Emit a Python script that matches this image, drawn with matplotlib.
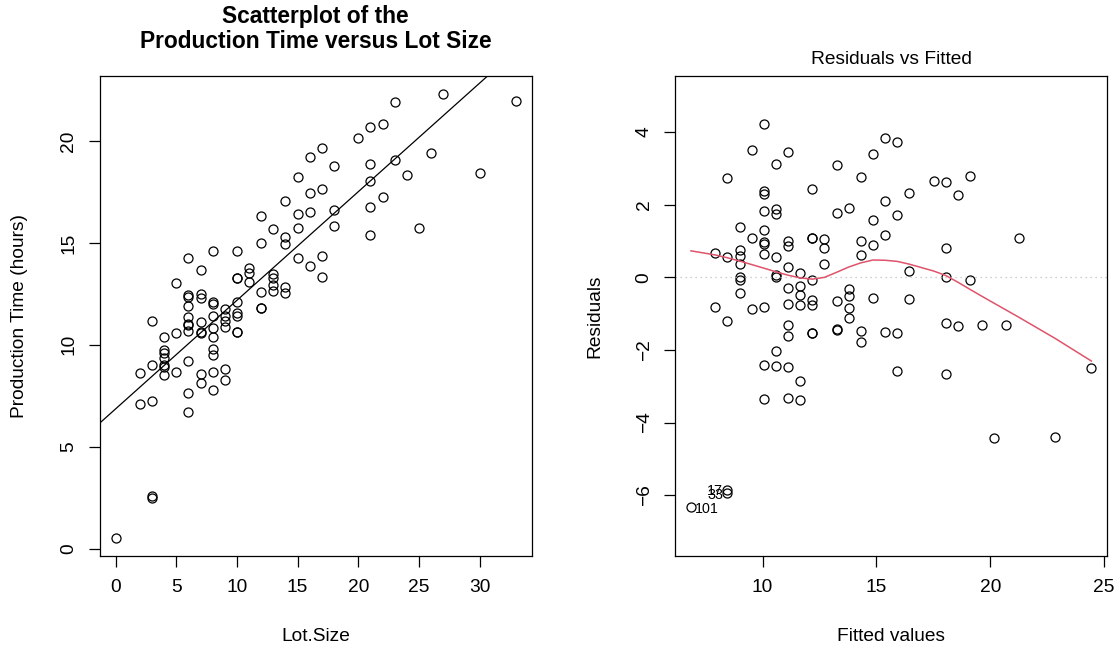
import numpy as np
import matplotlib.pyplot as plt

plt.rcParams['font.family'] = ['Liberation Sans', 'DejaVu Sans']

# lot size / production time (hours)
lot_size = ([0] + [2] * 2 + [3] * 5 + [4] * 7 + [5] * 3 + [6] * 11 + [7] * 8
            + [8] * 10 + [9] * 6 + [10] * 8 + [11] * 3 + [12] * 5 + [13] * 5
            + [14] * 5 + [15] * 4 + [16] * 4 + [17] * 4 + [18] * 3 + [20]
            + [21] * 5 + [22] * 2 + [23] * 2 + [24, 25, 26, 27, 30, 33])
hours = [0.52,
         8.60, 7.09,
         11.18, 9.00, 7.24, 2.60, 2.50,
         10.36, 9.74, 9.58, 9.35, 9.00, 8.92, 8.54,
         13.02, 10.60, 8.65,
         14.26, 12.44, 12.34, 11.88, 11.35, 11.01, 10.96, 10.70, 9.22, 7.63, 6.70,
         13.69, 12.47, 12.32, 11.13, 10.65, 10.58, 8.56, 8.13,
         14.58, 12.12, 11.98, 11.41, 10.82, 10.39, 9.80, 9.49, 8.66, 7.78,
         11.76, 11.42, 11.17, 10.88, 8.80, 8.28,
         14.62, 13.26, 13.26, 12.12, 11.55, 11.41, 10.64, 10.64,
         13.78, 13.52, 13.08,
         16.33, 15.01, 12.60, 11.83, 11.80,
         15.68, 13.47, 13.26, 12.93, 12.65,
         17.08, 15.31, 14.94, 12.83, 12.52,
         18.23, 16.43, 15.75, 14.27,
         19.22, 17.47, 16.54, 13.87,
         19.64, 17.63, 14.37, 13.34,
         18.77, 16.62, 15.85,
         20.17,
         20.67, 18.85, 18.04, 16.78, 15.39,
         20.84, 17.23,
         21.90, 19.05,
         18.33, 15.75, 19.41, 22.32, 18.44, 21.95]

# case numbers of the three largest residuals (largest first)
id_labels = ["101", "33", "17"]

x = np.array(lot_size, dtype=float)
y = np.array(hours)

slope, intercept = np.polyfit(x, y, 1)
fitted = intercept + slope * x
resid = y - fitted


def lowess(x, y, f=2 / 3, iters=3):
    # port of R's clowess (no delta shortcut)
    order = np.argsort(x, kind="stable")
    xs, ys_in = x[order], y[order]
    n = len(xs)
    ns = max(min(int(f * n + 1e-7), n), 2)
    rw = np.ones(n)
    ys = np.zeros(n)
    for it in range(iters + 1):
        for i in range(n):
            d = np.abs(xs - xs[i])
            h = np.sort(d)[ns - 1]
            w = np.zeros(n)
            inside = d <= 0.999 * h
            w[inside] = (1 - (d[inside] / h) ** 3) ** 3 if h > 0 else 1
            w[d <= 0.001 * h] = 1
            w *= rw
            if w.sum() <= 0:
                ys[i] = ys_in[i]
                continue
            w = w / w.sum()
            a = np.sum(w * xs)
            c = np.sum(w * (xs - a) ** 2)
            if h > 0 and np.sqrt(c) > 0.001 * (xs[-1] - xs[0]):
                b = np.sum(w * (xs - a) * ys_in) / c
                ys[i] = np.sum(w * ys_in) + b * (xs[i] - a)
            else:
                ys[i] = np.sum(w * ys_in)
        if it == iters:
            break
        res = ys_in - ys
        cmad = 6 * np.median(np.abs(res))
        if cmad < 1e-7 * np.mean(np.abs(ys_in)):
            break
        r = np.abs(res)
        rw = np.where(r <= 0.001 * cmad, 1.0,
                      np.where(r > 0.999 * cmad, 0.0, (1 - (r / cmad) ** 2) ** 2))
    return xs, ys


def r_lim(lo, hi):
    pad = 0.04 * (hi - lo)
    return lo - pad, hi + pad


FS = 13.8

fig = plt.figure(figsize=(11.16, 6.48), dpi=100)
ax1 = fig.add_axes([0.0892, 0.1424, 0.3875, 0.7403])
ax2 = fig.add_axes([0.6048, 0.1424, 0.3875, 0.7403])

for ax in (ax1, ax2):
    for s in ax.spines.values():
        s.set_linewidth(0.9)
    ax.tick_params(length=8, width=0.9, labelsize=FS, color="black")
    ax.tick_params(axis="x", pad=9)
    ax.tick_params(axis="y", pad=8)

# left: scatterplot with the fitted line
ax1.plot(x, y, "o", mfc="none", mec="black", ms=6.5, mew=0.9)
ax1.axline((0, intercept), slope=slope, color="black", lw=0.9)
ax1.set_xlim(*r_lim(x.min(), x.max()))
ax1.set_ylim(*r_lim(y.min(), y.max()))
ax1.set_xticks([0, 5, 10, 15, 20, 25, 30])
ax1.set_yticks([0, 5, 10, 15, 20])
for lab in ax1.get_yticklabels():
    lab.set_rotation(90)
    lab.set_va("center")
ax1.set_xlabel("Lot.Size", fontsize=FS, va="center")
ax1.xaxis.set_label_coords(0.5, -0.169)
ax1.set_ylabel("Production Time (hours)", fontsize=FS, va="center")
ax1.yaxis.set_label_coords(-0.185, 0.5)
ax1.text(0.5, 1.098, "Scatterplot of the\nProduction Time versus Lot Size",
         transform=ax1.transAxes, ha="center", va="center",
         fontsize=16.4, fontweight="bold", linespacing=1.1)

# right: residuals vs fitted
ax2.plot(fitted, resid, "o", mfc="none", mec="black", ms=6.5, mew=0.9)
ax2.axhline(0, color="#BEBEBE", lw=0.9, ls=(0, (1, 3)))
lx, ly = lowess(fitted, resid)
ax2.plot(lx, ly, color="#DF536B", lw=1.1)

r_lo, r_hi = resid.min(), resid.max()
ext = 0.08 * (r_hi - r_lo)
ax2.set_xlim(*r_lim(fitted.min(), fitted.max()))
ax2.set_ylim(*r_lim(r_lo - ext, r_hi + ext))
ax2.set_xticks([10, 15, 20, 25])
ax2.set_yticks([-6, -4, -2, 0, 2, 4])
for lab in ax2.get_yticklabels():
    lab.set_rotation(90)
    lab.set_va("center")

top = np.argsort(-np.abs(resid))[:3]
mid = (fitted[top].min() + fitted[top].max()) / 2
for k, idx in enumerate(top):
    right = fitted[idx] <= mid
    ax2.annotate(id_labels[k], (fitted[idx], resid[idx]),
                 xytext=(3 if right else -3, -1), textcoords="offset points",
                 ha="left" if right else "right", va="center", fontsize=10.3)

ax2.set_xlabel("Fitted values", fontsize=FS, va="center")
ax2.xaxis.set_label_coords(0.5, -0.169)
ax2.set_ylabel("Residuals", fontsize=FS, va="center")
ax2.yaxis.set_label_coords(-0.185, 0.5)
ax2.set_title("Residuals vs Fitted", fontsize=FS, pad=9)

fig.savefig("out.png", dpi=100)
